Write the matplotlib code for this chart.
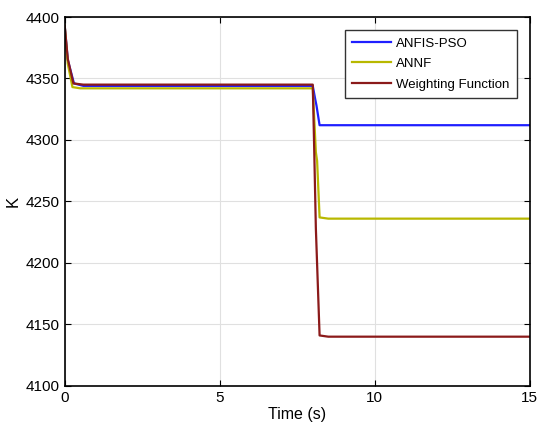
import matplotlib.pyplot as plt
import numpy as np

plt.rcParams['font.family'] = ['Liberation Sans', 'DejaVu Sans']

# time breakpoints (s) and K values for each controller
t_pso = [0, 0.1, 0.3, 0.6, 8.0, 8.08, 8.12, 8.22, 8.4, 15]
k_pso = [4393, 4365, 4346, 4344, 4344, 4333, 4328, 4312, 4312, 4312]

t_annf = [0, 0.1, 0.25, 0.5, 8.0, 8.1, 8.14, 8.22, 8.5, 15]
k_annf = [4393, 4362, 4343, 4342, 4342, 4290, 4283, 4237, 4236, 4236]

t_wf = [0, 0.1, 0.28, 0.6, 8.0, 8.04, 8.1, 8.22, 8.5, 15]
k_wf = [4393, 4366, 4346, 4345, 4345, 4300, 4228, 4141, 4140, 4140]

fig, ax = plt.subplots(figsize=(5.39, 4.36), dpi=100)
fig.subplots_adjust(left=0.12, right=0.983, top=0.961, bottom=0.115)

ax.plot(t_pso, k_pso, color='#1f1fff', lw=1.6, label='ANFIS-PSO')
ax.plot(t_annf, k_annf, color='#b8b800', lw=1.6, label='ANNF')
ax.plot(t_wf, k_wf, color='#8b1a1a', lw=1.6, label='Weighting Function')

ax.set_xlim(0, 15)
ax.set_ylim(4100, 4400)
ax.set_xticks([0, 5, 10, 15])
ax.set_yticks(np.arange(4100, 4401, 50))
ax.grid(True, color='#e0e0e0', lw=0.8)
ax.tick_params(direction='in', top=True, right=True, labelsize=11, length=4)
for s in ax.spines.values():
    s.set_linewidth(1.2)
ax.set_xlabel('Time (s)', fontsize=11.5, labelpad=2)
ax.set_ylabel('K', fontsize=12)

leg = ax.legend(loc='upper right', fancybox=False, framealpha=1, fontsize=9.5,
                edgecolor='#333333', borderaxespad=1.0, handlelength=3.0,
                handletextpad=0.35, labelspacing=0.62, borderpad=0.55)
leg.get_frame().set_linewidth(1.0)

plt.savefig('out.png', dpi=100)
